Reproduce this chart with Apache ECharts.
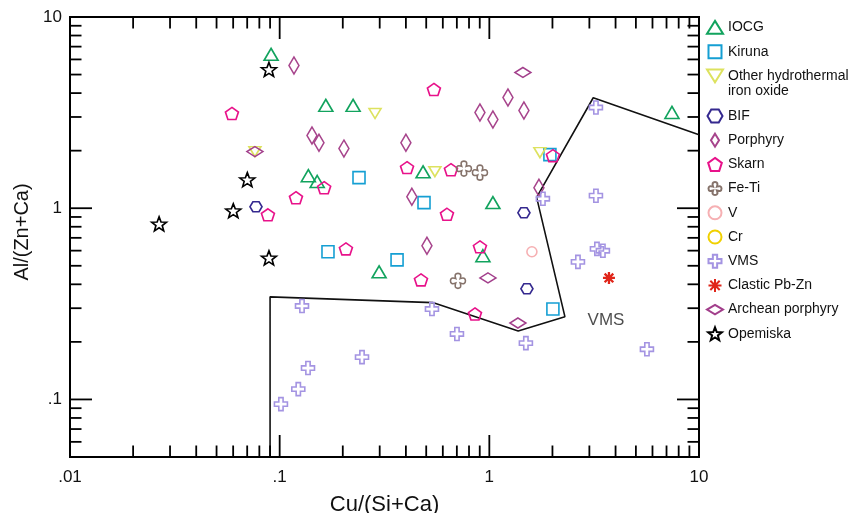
<!DOCTYPE html>
<html>
<head>
<meta charset="utf-8">
<script src="https://cdn.jsdelivr.net/npm/echarts@6/dist/echarts.min.js"></script>
<style>html,body{margin:0;padding:0;background:#fff}#c{width:858px;height:513px}</style>
</head>
<body>
<div id="c"></div>
<script>
// ---- data (x = Cu/(Si+Ca), y = Al/(Zn+Ca)) ----
const iocg = [[0.091,6.38],[0.166,3.45],[0.224,3.45],[0.137,1.48],[0.151,1.38],[0.483,1.55],[1.04,1.07],[0.932,0.564],[0.298,0.465],[7.43,3.17]];
const kiruna = [[0.239,1.445],[0.170,0.592],[0.488,1.07],[0.363,0.537],[1.945,1.907],[2.01,0.297]];
const otherHydro = [[0.285,3.13],[0.0762,1.977],[0.550,1.553],[1.743,1.953]];
const bif = [[0.0771,1.018],[1.462,0.947],[1.511,0.379]];
const porphyry = [[0.117,5.58],[0.1426,2.40],[0.154,2.20],[0.2025,2.05],[1.227,3.79],[0.902,3.17],[1.04,2.91],[1.462,3.24],[0.400,2.20],[1.724,1.281],[0.427,1.149],[0.504,0.636]];
const skarn = [[0.0592,3.13],[0.163,1.281],[0.1196,1.135],[0.0879,0.924],[0.207,0.613],[0.544,4.18],[0.405,1.631],[0.656,1.591],[2.01,1.884],[0.628,0.93],[0.902,0.628],[0.472,0.422],[0.854,0.280]];
const feTi = [[0.7565,1.611],[0.902,1.535],[0.7085,0.417]];
const vDeposits = [[1.596,0.592]];
const crDeposits = [];
const vms = [[3.224,3.363],[1.801,1.121],[3.224,1.163],[2.646,0.524],[3.26,0.613],[3.48,0.599],[5.645,0.183],[0.5325,0.297],[0.7007,0.220],[1.494,0.197],[0.247,0.1665],[0.1278,0.308],[0.1365,0.1459],[0.1227,0.1132],[0.1014,0.0945]];
const clasticPbZn = [[3.72,0.432]];
const archeanPorphyry = [[0.0762,1.977],[1.446,5.13],[0.985,0.432],[1.369,0.251]];
const opemiska = [[0.0889,5.32],[0.0701,1.411],[0.0601,0.970],[0.0266,0.829],[0.0889,0.550]];
const vmsField = [[0.09,0.05],[0.09,0.344],[0.537,0.321],[1.373,0.228],[2.293,0.271],[1.681,1.139],[3.13,3.781],[10,2.419]];
const fieldLabels = [{text:'VMS', x:3.6, y:0.258}];

const xMajorTicks = [0.01,0.1,1,10];
const xTickLabels = ['.01','.1','1','10'];
const xMinorTicks = [0.02,0.03,0.04,0.05,0.06,0.07,0.08,0.09,0.2,0.3,0.4,0.5,0.6,0.7,0.8,0.9,2,3,4,5,6,7,8,9];
const yMajorTicks = [0.1,1,10];
const yTickLabels = ['.1','1','10'];
const yMinorTicks = [0.06,0.07,0.08,0.09,0.2,0.3,0.4,0.5,0.6,0.7,0.8,0.9,2,3,4,5,6,7,8,9];

// ---- symbols ----
const TRI='path://M0,-0.8L1,0.8L-1,0.8Z';
const SQUARE='path://M-1,-1L1,-1L1,1L-1,1Z';
const ITRI='path://M-1,-0.8L1,-0.8L0,0.8Z';
const HEX='path://M-1,0L-0.5,-0.866L0.5,-0.866L1,0L0.5,0.866L-0.5,0.866Z';
const TALLDIA='path://M0,-1L0.62,0L0,1L-0.62,0Z';
const WIDEDIA='path://M0,-0.6L1,0L0,0.6L-1,0Z';
const PENT='path://M0,-1L0.951,-0.309L0.588,0.809L-0.588,0.809L-0.951,-0.309Z';
const FETI='path://M-0.3,-0.3Q-0.55,-1 0,-1Q0.55,-1 0.3,-0.3Q1,-0.55 1,0Q1,0.55 0.3,0.3Q0.55,1 0,1Q-0.55,1 -0.3,0.3Q-1,0.55 -1,0Q-1,-0.55 -0.3,-0.3Z';
const CROSS='path://M-0.33,-1L0.33,-1L0.33,-0.33L1,-0.33L1,0.33L0.33,0.33L0.33,1L-0.33,1L-0.33,0.33L-1,0.33L-1,-0.33L-0.33,-0.33Z';
const AST='path://M0,-1L0,1M-1,0L1,0M-0.72,-0.72L0.72,0.72M-0.72,0.72L0.72,-0.72';
const STAR='path://M0,-1L0.247,-0.34L0.951,-0.309L0.399,0.13L0.588,0.809L0,0.42L-0.588,0.809L-0.399,0.13L-0.951,-0.309L-0.247,-0.34Z';
const CIRC='path://M-1,0A1,1,0,1,1,1,0A1,1,0,1,1,-1,0Z';

const OTHER = 'Other hydrothermal\niron oxide';
const defs = [
  {name:'IOCG', data:iocg, symbol:TRI, size:[14,12], color:'#12a35e'},
  {name:'Kiruna', data:kiruna, symbol:SQUARE, size:[12,12], color:'#159fd3'},
  {name:OTHER, data:otherHydro, symbol:ITRI, size:[12,10], color:'#dde25f'},
  {name:'BIF', data:bif, symbol:HEX, size:[12,10], color:'#35298f'},
  {name:'Porphyry', data:porphyry, symbol:TALLDIA, size:[10,17], color:'#a7448c'},
  {name:'Skarn', data:skarn, symbol:PENT, size:[13,12], color:'#e8128a'},
  {name:'Fe-Ti', data:feTi, symbol:FETI, size:[15,15], color:'#85726a'},
  {name:'V', data:vDeposits, symbol:CIRC, size:[10,10], color:'#f6b0b3'},
  {name:'Cr', data:crDeposits, symbol:CIRC, size:[10,10], color:'#f0d000'},
  {name:'VMS', data:vms, symbol:CROSS, size:[13,13], color:'#a494e2'},
  {name:'Clastic Pb-Zn', data:clasticPbZn, symbol:AST, size:[12,12], color:'#e0261a', bw:2.3},
  {name:'Archean porphyry', data:archeanPorphyry, symbol:WIDEDIA, size:[16,10], color:'#a23e8b'},
  {name:'Opemiska', data:opemiska, symbol:STAR, size:[15,14], color:'#000000'}
];

const scatterSeries = defs.map(d => ({
  type:'scatter', name:d.name, data:d.data, symbol:d.symbol, symbolSize:d.size,
  itemStyle:{color:'transparent', borderColor:d.color, borderWidth:d.bw || 1.6, opacity:1},
  emphasis:{disabled:true}, z:3
}));

const tickData = [];
xMajorTicks.forEach(v => tickData.push([v,1,0]));
xMinorTicks.forEach(v => tickData.push([v,1,1]));
yMajorTicks.forEach(v => tickData.push([1,v,2]));
yMinorTicks.forEach(v => tickData.push([1,v,3]));

function labelFmt(majors, labels){
  return function(v){
    for (let i=0;i<majors.length;i++){
      if (Math.abs(Math.log10(v)-Math.log10(majors[i]))<1e-6) return labels[i];
    }
    return '';
  };
}

const FONT = '"Liberation Sans", Arial, Helvetica, sans-serif';
const legendCommon = {
  orient:'vertical', left:706, padding:0, itemWidth:16, itemHeight:13,
  symbolKeepAspect:true, selectedMode:false,
  textStyle:{fontFamily:FONT, fontSize:14, lineHeight:15, color:'#111'}
};

const option = {
  animation:false,
  backgroundColor:'#fff',
  grid:{left:70, right:159, top:17, bottom:56, outerBoundsMode:'none', containLabel:false,
        show:true, borderColor:'#000', borderWidth:2, backgroundColor:'transparent'},
  legend:[
    Object.assign({}, legendCommon, {top:19.8, itemGap:9.4, data:['IOCG','Kiruna']}),
    Object.assign({}, legendCommon, {top:53.5, itemGap:9.4, data:[OTHER], formatter:function(n){ return '\n' + n; }}),
    Object.assign({}, legendCommon, {top:108.5, itemGap:9.2, data:['BIF','Porphyry','Skarn','Fe-Ti','V','Cr','VMS','Clastic Pb-Zn','Archean porphyry','Opemiska']})
  ],
  xAxis:{
    type:'log', logBase:10, min:0.01, max:10,
    name:'Cu/(Si+Ca)', nameLocation:'middle', nameGap:37,
    nameTextStyle:{fontFamily:FONT, fontSize:22, color:'#111'},
    axisLine:{show:false}, axisTick:{show:false}, splitLine:{show:false},
    axisLabel:{fontFamily:FONT, fontSize:17, color:'#111', margin:12, formatter:labelFmt(xMajorTicks,xTickLabels)}
  },
  yAxis:{
    type:'log', logBase:10, min:0.05, max:10,
    name:'Al/(Zn+Ca)', nameLocation:'middle', nameGap:35,
    nameTextStyle:{fontFamily:FONT, fontSize:20, color:'#111', padding:[0,0,0,10]},
    axisLine:{show:false}, axisTick:{show:false}, splitLine:{show:false},
    axisLabel:{fontFamily:FONT, fontSize:17, color:'#111', margin:8, formatter:labelFmt(yMajorTicks,yTickLabels)}
  },
  series:[
    {
      type:'custom', name:'ticks', data:tickData, silent:true, clip:false, z:5,
      renderItem:function(params, api){
        const v0 = api.value(0), v1 = api.value(1), kind = api.value(2);
        const cs = params.coordSys;
        const len = (kind === 0 || kind === 2) ? 22 : 11.5;
        const st = {stroke:'#000', lineWidth:1.8};
        if (kind < 2){
          const px = api.coord([v0, v1])[0];
          const yb = cs.y + cs.height, yt = cs.y;
          return {type:'group', children:[
            {type:'line', shape:{x1:px,y1:yb,x2:px,y2:yb-len}, style:st},
            {type:'line', shape:{x1:px,y1:yt,x2:px,y2:yt+len}, style:st}
          ]};
        } else {
          const py = api.coord([v0, v1])[1];
          const xl = cs.x, xr = cs.x + cs.width;
          return {type:'group', children:[
            {type:'line', shape:{x1:xl,y1:py,x2:xl+len,y2:py}, style:st},
            {type:'line', shape:{x1:xr,y1:py,x2:xr-len,y2:py}, style:st}
          ]};
        }
      }
    },
    {
      type:'line', name:'VMS field', data:vmsField, symbol:'none', clip:true, silent:true,
      lineStyle:{color:'#111', width:1.6}, z:2
    },
    {
      type:'scatter', name:'field labels', silent:true,
      data:fieldLabels.map(f => ({value:[f.x, f.y], label:{formatter:f.text}})),
      symbolSize:0,
      label:{show:true, position:'inside', fontFamily:FONT, fontSize:17, color:'#222'}
    }
  ].concat(scatterSeries)
};

const chart = echarts.init(document.getElementById('c'));
chart.setOption(option);
</script>
</body>
</html>
